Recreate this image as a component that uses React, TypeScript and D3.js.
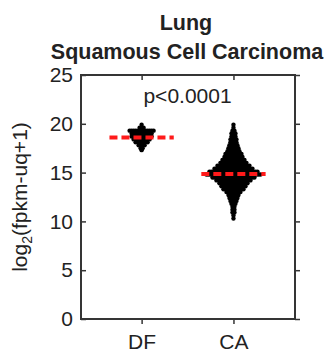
import React, { useEffect, useRef } from 'react';
import * as d3 from 'd3';

// categories and tick labels
const categories = ['DF', 'CA'];
const yTicks = [0, 5, 10, 15, 20, 25];
const pLabel = 'p<0.0001';

// swarm rows: row value and number of dots in that row
const dfRowValues = [19.9, 19.6, 19.3, 19.0, 18.7, 18.4, 18.1, 17.8, 17.5, 17.3];
const dfRowCounts = [1, 3, 13, 11, 11, 9, 7, 4, 2, 1];

const caRowValues = [
  19.9, 19.6, 19.3, 19.0, 18.7, 18.4, 18.1, 17.8, 17.5, 17.2, 16.9, 16.6, 16.3, 16.0, 15.7, 15.4, 15.1,
  14.8, 14.5, 14.2, 13.9, 13.6, 13.3, 13.0, 12.7, 12.4, 12.1, 11.8, 11.5, 11.2, 10.9, 10.6, 10.3,
];
const caRowCounts = [
  1, 1, 2, 3, 3, 4, 4, 5, 6, 7, 9, 10, 12, 14, 17, 20, 25,
  28, 22, 18, 15, 13, 11, 8, 6, 5, 4, 3, 2, 2, 2, 1, 1,
];

// medians (red dashed lines)
const medians = [18.6, 14.85];

export default function App() {
  const ref = useRef<SVGSVGElement>(null);

  useEffect(() => {
    if (!ref.current) return;
    const svg = d3.select(ref.current);
    svg.selectAll('*').remove();

    const W = 325;
    const H = 354;
    const margin = { top: 75, right: 30, bottom: 35, left: 81 };
    const width = W - margin.left - margin.right;
    const height = H - margin.top - margin.bottom;
    const font = 'Liberation Sans, Arial, sans-serif';
    const axisColor = '#353535';

    const g = svg.append('g').attr('transform', `translate(${margin.left},${margin.top})`);

    const x = d3.scaleLinear().domain([0.34, 2.67]).range([0, width]);
    const y = d3.scaleLinear().domain([0, 25]).range([height, 0]);

    // swarms
    const dotR = 2.2;
    const step = 2;
    const groups = [
      { values: dfRowValues, counts: dfRowCounts },
      { values: caRowValues, counts: caRowCounts },
    ];
    groups.forEach((grp, gi) => {
      const cx = x(gi + 1);
      const pts: { px: number; py: number }[] = [];
      grp.values.forEach((v, ri) => {
        const n = grp.counts[ri];
        for (let i = 0; i < n; i++) {
          pts.push({ px: cx + (i - (n - 1) / 2) * step, py: y(v) });
        }
      });
      g.append('g')
        .selectAll('circle')
        .data(pts)
        .enter()
        .append('circle')
        .attr('cx', d => d.px)
        .attr('cy', d => d.py)
        .attr('r', dotR)
        .attr('fill', '#000');
    });

    // median lines
    g.selectAll('.median')
      .data(medians)
      .enter()
      .append('line')
      .attr('class', 'median')
      .attr('x1', (d, i) => x(i + 1 - 0.35))
      .attr('x2', (d, i) => x(i + 1 + 0.35))
      .attr('y1', d => y(d))
      .attr('y2', d => y(d))
      .attr('stroke', '#ff1a1a')
      .attr('stroke-width', 4)
      .attr('stroke-dasharray', '8,4');

    // axes
    const styleAxis = (sel: any) => {
      sel.select('.domain').remove();
      sel.selectAll('line').attr('stroke', axisColor).attr('stroke-width', 1.5);
      sel.selectAll('text').attr('fill', '#222').style('font-family', font).style('font-size', '21px');
    };

    g.append('g')
      .call(d3.axisLeft(y).tickValues(yTicks).tickSize(-5).tickPadding(8))
      .call(styleAxis);

    g.append('g')
      .attr('transform', `translate(${width},0)`)
      .call(d3.axisRight(y).tickValues(yTicks).tickSize(5).tickFormat(() => ''))
      .call(styleAxis);

    g.append('g')
      .call(d3.axisTop(x).tickValues([1, 2]).tickSize(-5).tickFormat(() => ''))
      .call(styleAxis);

    g.append('g')
      .attr('transform', `translate(0,${height})`)
      .call(d3.axisBottom(x).tickValues([1, 2]).tickSize(5).tickPadding(10).tickFormat((d: any) => categories[d - 1]))
      .call(styleAxis);

    // box
    g.append('rect')
      .attr('x', 0)
      .attr('y', 0)
      .attr('width', width)
      .attr('height', height)
      .attr('fill', 'none')
      .attr('stroke', axisColor)
      .attr('stroke-width', 2);

    // p value
    g.append('text')
      .attr('x', x(1.5))
      .attr('y', 28)
      .attr('text-anchor', 'middle')
      .style('font-family', font)
      .style('font-size', '21px')
      .attr('fill', '#222')
      .text(pLabel);

    // title
    svg.append('text')
      .attr('x', 186)
      .attr('y', 30)
      .attr('text-anchor', 'middle')
      .style('font-family', font)
      .style('font-size', '21.5px')
      .style('font-weight', 'bold')
      .attr('fill', '#222')
      .text('Lung');

    svg.append('text')
      .attr('x', 187)
      .attr('y', 59)
      .attr('text-anchor', 'middle')
      .style('font-family', font)
      .style('font-size', '21.5px')
      .style('font-weight', 'bold')
      .attr('fill', '#222')
      .text('Squamous Cell Carcinoma');

    // y label
    const yl = svg.append('text')
      .attr('transform', `translate(27,${margin.top + height / 2}) rotate(-90)`)
      .attr('text-anchor', 'middle')
      .style('font-family', font)
      .style('font-size', '21px')
      .attr('fill', '#222');
    yl.append('tspan').text('log');
    yl.append('tspan').attr('dy', 5).style('font-size', '14px').text('2');
    yl.append('tspan').attr('dy', -5).text('(fpkm-uq+1)');
  }, []);

  return (
    <svg
      ref={ref}
      width={325}
      height={354}
      style={{ position: 'absolute', left: 0, top: 0, background: '#fff' }}
    />
  );
}
